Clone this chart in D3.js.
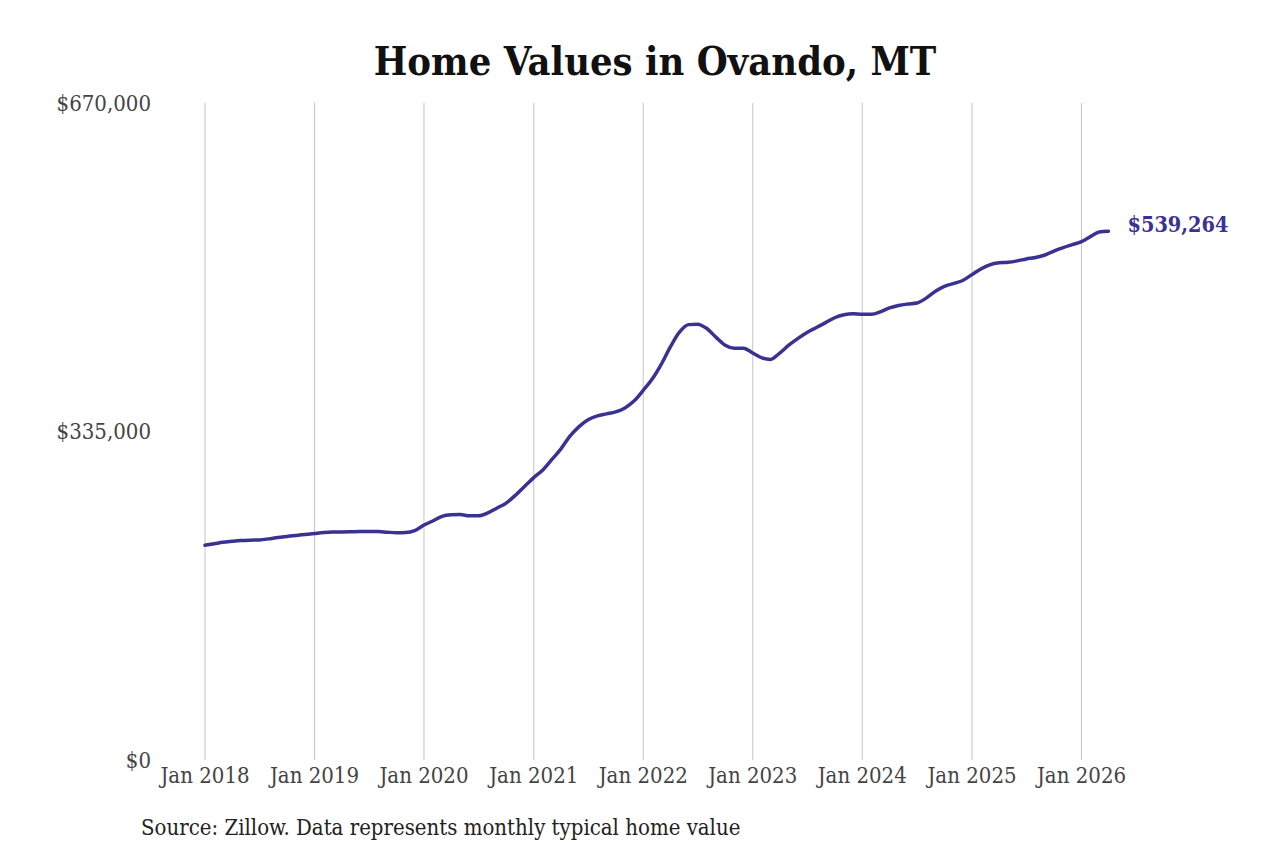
<!DOCTYPE html>
<html>
<head>
<meta charset="utf-8">
<script src="https://cdn.jsdelivr.net/npm/d3@7"></script>
<style>
  body { margin: 0; background: #fff; }
  text { font-family: "DejaVu Serif Condensed", "DejaVu Serif", serif; }
</style>
</head>
<body>
<div id="chart"></div>
<script>
var startMonth = '2018-01',
    values = [
        219, 220.5, 222, 223, 223.8, 224.2, 224.4, 225.5, 227, 228, 229, 230,
        231, 232, 232.5, 232.6, 232.7, 232.9, 233, 233, 232.3, 231.8, 232, 234,
        239.6, 244, 248.5, 250, 250.3, 249, 249, 252, 257, 262, 270, 279,
        288, 296, 306, 317, 330, 340, 347, 351, 353, 355, 359, 366,
        377, 389, 403, 421, 436, 444, 444.5, 440, 431, 423, 420, 420,
        415, 410, 408.5, 415, 423, 430, 436, 441, 446, 451, 454, 455,
        454.5, 454.5, 457, 461, 463.5, 465, 466, 471, 478, 483, 486, 489,
        495, 501, 505, 507, 507.5, 509, 511, 512.5, 515, 519, 522.5, 525.5,
        528.6, 534, 538.5, 539.264
    ],
    yTicks = [0, 335000, 670000],
    xTickYears = [2018, 2019, 2020, 2021, 2022, 2023, 2024, 2025, 2026],
    title = 'Home Values in Ovando, MT',
    source = 'Source: Zillow. Data represents monthly typical home value';

var width = 1280, height = 853,
    margin = {left: 205, right: 1280 - 1081.5, top: 103, bottom: 853 - 760},
    lineColor = '#3a3293',
    parseMonth = d3.timeParse('%Y-%m'),
    fmt = d3.format('$,.0f');

var data = values.map(function(v, i) {
    return {date: d3.timeMonth.offset(parseMonth(startMonth), i), value: v * 1000};
});

var svg = d3.select('#chart').append('svg')
    .attr('width', width)
    .attr('height', height);

var x = d3.scaleTime()
    .domain([new Date(2018, 0, 1), new Date(2026, 0, 1)])
    .range([margin.left, width - margin.right]);

var y = d3.scaleLinear()
    .domain([0, 670000])
    .range([height - margin.bottom, margin.top]);

svg.append('text')
    .attr('x', 655)
    .attr('y', 75)
    .attr('text-anchor', 'middle')
    .style('font-size', '39.5px')
    .style('font-weight', 'bold')
    .style('fill', '#111')
    .text(title);

// vertical gridlines at each January
svg.append('g').selectAll('line')
    .data(xTickYears)
    .enter()
    .append('line')
    .attr('x1', function(d) { return x(new Date(d, 0, 1)); })
    .attr('x2', function(d) { return x(new Date(d, 0, 1)); })
    .attr('y1', y(670000))
    .attr('y2', y(0))
    .attr('stroke', '#c4c4c4')
    .attr('stroke-width', 1);

svg.append('g').selectAll('text')
    .data(xTickYears)
    .enter()
    .append('text')
    .attr('x', function(d) { return x(new Date(d, 0, 1)); })
    .attr('y', y(0) + 15)
    .attr('dy', '0.35em')
    .attr('text-anchor', 'middle')
    .style('font-size', '22px')
    .style('fill', '#444')
    .text(function(d) { return 'Jan ' + d; });

svg.append('g').selectAll('text')
    .data(yTicks)
    .enter()
    .append('text')
    .attr('x', 151)
    .attr('y', function(d) { return y(d); })
    .attr('dy', '0.35em')
    .attr('text-anchor', 'end')
    .style('font-size', '22px')
    .style('fill', '#444')
    .text(function(d) { return fmt(d); });

var line = d3.line()
    .x(function(d) { return x(d.date); })
    .y(function(d) { return y(d.value); })
    .curve(d3.curveMonotoneX);

svg.append('path')
    .datum(data)
    .attr('d', line)
    .attr('fill', 'none')
    .attr('stroke', lineColor)
    .attr('stroke-width', 3.5)
    .attr('stroke-linecap', 'round');

var last = data[data.length - 1];
svg.append('text')
    .attr('x', x(last.date) + 19)
    .attr('y', y(last.value) - 7)
    .attr('dy', '0.35em')
    .style('font-size', '21.5px')
    .style('font-weight', 'bold')
    .style('fill', lineColor)
    .text(fmt(last.value));

svg.append('text')
    .attr('x', 141)
    .attr('y', 835)
    .style('font-size', '22px')
    .style('fill', '#222')
    .text(source);
</script>
</body>
</html>
